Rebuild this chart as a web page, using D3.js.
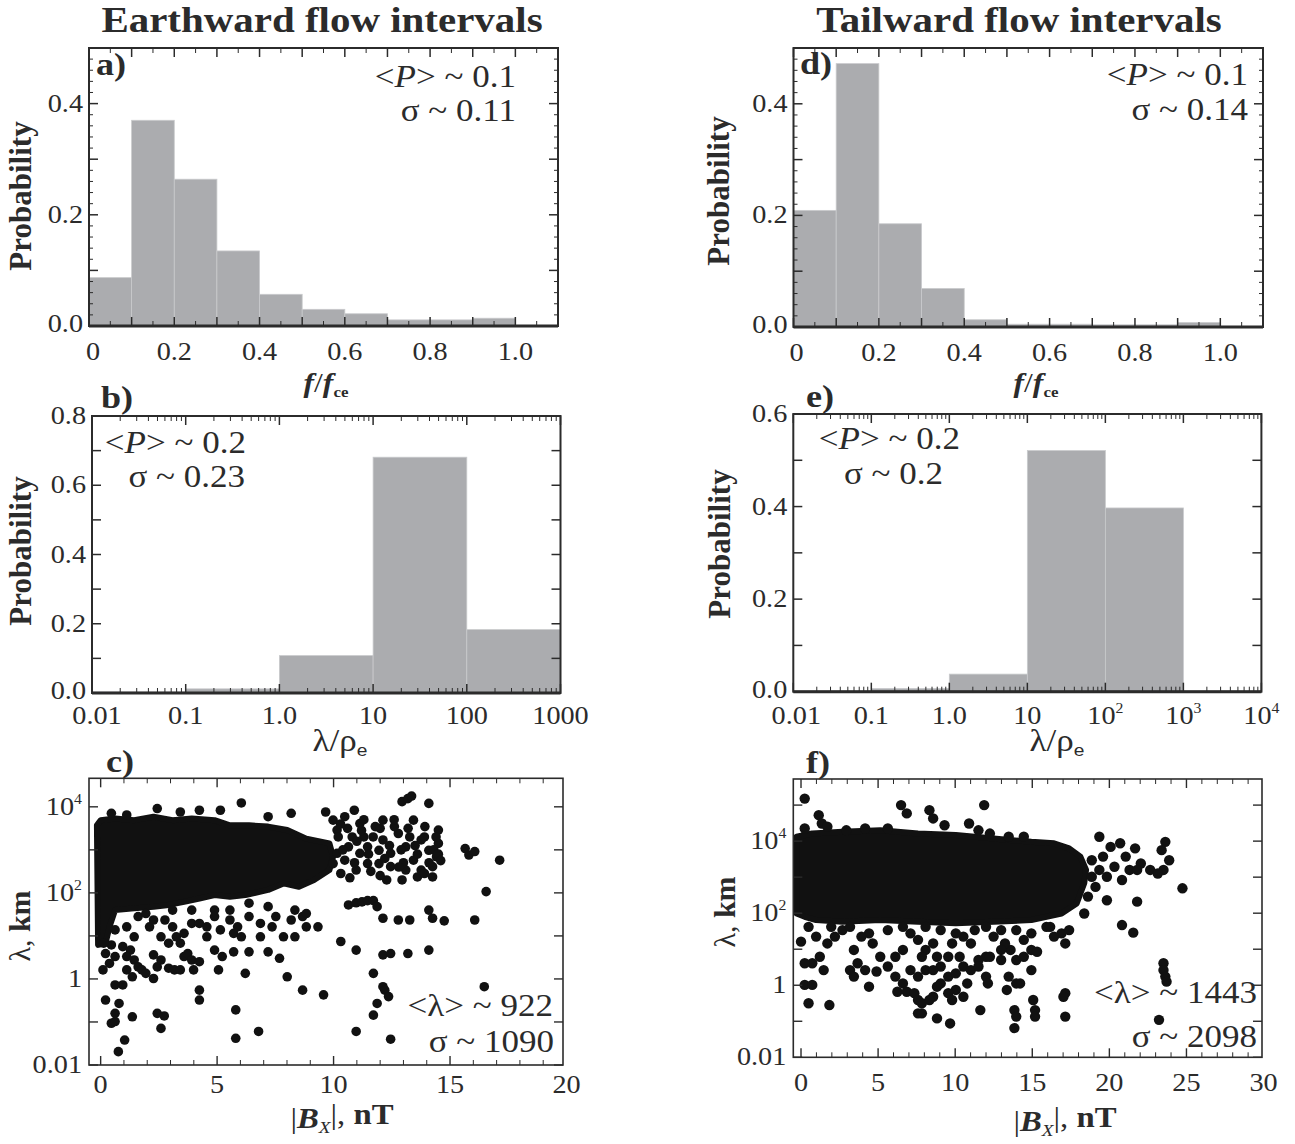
<!DOCTYPE html>
<html>
<head>
<meta charset="utf-8">
<title>Earthward and tailward flow intervals</title>
<script src="https://cdn.jsdelivr.net/npm/d3@7"></script>
<style>
  body { margin: 0; background: #fff; }
  svg { display: block; font-family: "Liberation Serif", "Times New Roman", serif; }
</style>
</head>
<body>
<svg id="fig" width="1295" height="1144"></svg>
<script>
// ---- histogram data (probability per bin) ----
var freqBins = [0, 0.1, 0.2, 0.3, 0.4, 0.5, 0.6, 0.7, 0.8, 0.9, 1.0];
var earthFreqProb = [0.087, 0.370, 0.264, 0.135, 0.057, 0.030, 0.022, 0.011, 0.011, 0.014];
var tailFreqProb  = [0.209, 0.472, 0.185, 0.069, 0.013, 0.005, 0.005, 0.004, 0.004, 0.008];

var lamRhoBins = [0.01, 0.1, 1, 10, 100, 1000];
var earthLamRhoProb = [0.003, 0.012, 0.108, 0.681, 0.183];
var tailLamRhoProb  = [0.000, 0.007, 0.038, 0.521, 0.397];

// ---- scatter data: [|Bx| nT, log10(lambda km)] ----
// outline of the saturated (overplotted) cloud
var earthCore = [[-0.16,3.57],[0,3.69],[0.62,3.73],[1.44,3.69],[2.27,3.77],[3.09,3.69],[3.91,3.73],
  [4.89,3.69],[5.55,3.57],[6.37,3.57],[7.19,3.54],[8.01,3.46],[8.83,3.26],[9.82,3.15],[9.98,2.84],
  [9.82,2.53],[9.16,2.30],[8.51,2.14],[7.85,2.22],[7.19,2.07],[6.21,1.95],[5.55,1.91],[4.89,1.95],
  [4.24,1.87],[3.58,1.79],[2.92,1.72],[2.27,1.68],[1.44,1.64],[0.62,1.60],[0.38,1.21],[0.21,0.83],[-0.11,0.79]];
var earthPoints = [
  [0.46,3.85],[1.12,3.81],[2.43,3.96],[3.42,3.88],[4.24,3.92],[5.14,3.92],[6.04,4.09],[7.19,3.77],
  [8.18,3.85],[9.66,3.88],[10.89,3.92],[12.94,4.12],[13.19,4.19],[13.35,4.25],[14.09,4.08],
  [9.98,3.69],[10.15,3.46],[10.48,3.77],[10.80,3.30],[11.13,3.61],[11.46,3.07],[11.79,3.54],[12.12,3.23],
  [12.45,2.92],[12.78,3.38],[13.10,3.07],[13.43,2.76],[13.76,3.23],[14.09,2.99],[14.42,2.84],[14.50,3.15],
  [14.25,2.61],[13.76,2.53],[13.10,2.53],[12.45,2.61],[11.95,2.68],[11.46,2.68],[10.97,2.53],[10.48,2.76],
  [10.15,2.92],[9.98,2.68],[13.43,3.69],[13.92,3.54],[12.12,3.69],[11.13,2.92],[12.94,2.30],[13.60,2.37],
  [14.25,2.37],[10.64,3.07],[11.30,3.30],[12.61,3.54],[14.50,3.46],[11.95,2.99],[13.27,3.30],[10.31,2.45],
  [12.28,2.30],
  [10.2,3.3],[10.4,3.0],[10.6,3.5],[10.9,2.7],[11.0,3.2],[11.3,3.7],[11.5,2.9],[11.7,3.3],[12.0,3.5],
  [12.2,2.8],[12.4,3.1],[12.6,3.7],[12.9,3.0],[13.0,2.7],[13.2,3.5],[13.5,3.1],[13.6,2.9],[13.9,3.3],
  [14.1,2.7],[14.3,3.0],[14.4,3.3],[14.5,2.9],[10.3,3.6],[11.6,2.5],[12.8,2.6],[13.9,2.45],[14.6,2.75],
  [10.7,2.35],[12.0,2.4],[11.2,3.45],
  [15.65,3.03],[15.81,2.88],[16.06,2.96],[17.13,2.76],[16.55,2.03],[16.06,1.37],[14.75,1.35],[16.47,-0.18],
  [10.64,1.72],[10.97,1.77],[11.22,1.79],[11.46,1.82],[11.71,1.82],[11.87,1.68],
  [12.12,1.41],[12.78,1.37],[13.27,1.37],[14.09,1.60],[14.25,1.41],
  [10.31,0.87],[10.97,0.67],[12.12,0.56],[12.45,0.59],[13.19,0.59],[14.09,0.67],
  [11.71,0.13],[12.12,-0.18],[12.20,-0.26],[12.36,-0.41],[11.87,-0.57],[11.71,-0.84],[12.45,-1.40],[10.97,-1.22],
  [8.67,-0.26],[9.57,-0.37],[8.01,0.05],[7.19,0.63],[7.68,0.48],[6.78,-1.22],[5.80,-1.38],[5.80,-0.72],
  [6.21,0.13],[5.71,0.63],[6.37,0.63],[5.71,1.06],[6.04,0.98],[5.06,0.21],[4.24,-0.26],[4.24,-0.49],[4.56,0.98],
  [5.14,1.14],[5.55,1.37],[6.37,1.45],[6.86,1.29],[7.36,1.21],[7.85,0.98],[8.34,0.98],[8.83,1.21],[8.67,1.45],
  [9.33,1.21],[8.34,1.60],[8.83,1.52],[4.89,1.60],[5.55,1.60],[6.37,1.76],[7.19,1.68],[7.52,1.45],[8.18,1.37],
  [6.86,0.98],[5.88,1.21],[4.89,1.45],[4.56,1.21],[3.91,1.60],[3.09,1.60],
  [0.21,0.59],[0.46,0.79],[0.62,0.52],[0.95,0.75],[1.28,0.67],[1.44,0.44],[1.61,0.28],[1.12,0.21],[1.36,0.05],
  [1.77,0.21],[1.94,0.13],[2.27,0.01],[2.43,0.28],[2.59,0.44],[2.27,0.56],[2.92,0.25],[3.17,0.21],[3.42,0.21],
  [3.58,0.52],[3.74,0.59],[3.91,0.44],[3.42,0.83],[2.92,0.83],[3.25,0.98],[3.58,1.06],[2.59,0.98],[2.10,1.21],
  [1.61,1.45],[1.94,1.52],[2.27,1.37],[2.76,1.37],[3.09,1.21],[3.91,1.29],[4.24,1.29],[1.12,1.21],[0.62,1.14],
  [1.44,0.98],[1.12,0.52],[4.24,0.40],[4.89,0.67],[5.22,0.52],[3.99,0.21],
  [0.21,-0.49],[0.46,-1.03],[0.62,-0.99],[0.79,-0.57],[0.62,-0.80],[1.03,-1.42],[0.76,-1.69],[0.95,-0.14],
  [0.62,-0.14],[1.36,-0.88],[2.43,-0.80],[2.73,-0.86],[2.59,-1.15],[0.13,0.83],[0.10,0.21],[0.38,0.36]
];

var tailCore = [[-0.29,4.12],[0.73,4.21],[2.69,4.26],[5.14,4.30],[7.59,4.21],[10.04,4.17],[12.49,4.07],
  [14.94,3.98],[16.41,3.94],[17.39,3.80],[18.12,3.57],[18.49,3.20],[18.37,2.83],[17.88,2.27],[16.90,1.99],
  [14.94,1.81],[12.49,1.76],[10.04,1.72],[7.59,1.76],[5.14,1.81],[2.69,1.76],[0.98,1.81],[0.24,1.90],[-0.29,1.99]];
var tailPoints = [
  [0.24,5.18],[1.15,4.72],[1.35,4.49],[1.71,4.40],[6.49,5.00],[6.86,4.77],[8.33,4.86],[8.57,4.63],[9.31,4.44],
  [11.88,5.00],[10.90,4.49],[11.51,4.30],[12.25,4.21],[5.63,4.35],[4.16,4.35],[2.94,4.30],[0.24,4.35],
  [13.47,4.12],[14.45,4.12],
  [19.35,4.12],[20.08,3.84],[20.70,3.94],[21.67,3.80],[23.63,3.98],[23.39,3.75],[23.88,3.47],[22.04,3.38],
  [22.65,3.20],[23.51,3.20],[23.14,3.10],[24.74,2.69],[21.80,2.32],[20.82,1.67],[21.55,1.46],[19.35,3.20],
  [18.86,3.01],[19.84,3.01],[20.33,3.29],[21.06,3.57],[21.31,3.20],[19.84,2.36],[19.10,2.73],[18.61,2.46],
  [18.37,1.99],[18.86,3.47],[19.59,3.57],[20.82,2.92],[21.80,3.20],
  [16.90,1.44],[17.14,1.16],[17.39,1.53],[16.41,1.35],[15.92,1.62],[14.94,1.44],[14.45,1.26],[13.96,1.53],
  [13.59,0.98],[14.94,0.98],[15.31,0.93],[13.23,1.16],[12.98,0.98],[12.49,1.35],[12.00,0.79],[11.51,0.70],
  [11.02,1.16],[10.53,1.35],[10.04,1.44],[9.80,1.16],[9.55,0.79],[9.06,0.52],[8.82,0.79],[8.57,1.16],
  [8.08,0.98],[7.59,1.26],[7.10,1.44],[6.61,0.98],[6.12,0.79],[5.63,0.52],[5.14,0.79],[4.65,1.16],[4.41,1.44],
  [3.92,1.35],[3.43,0.98],[3.67,0.61],[3.18,0.42],[4.16,0.42],[4.90,0.38],[6.12,0.24],[6.61,0.05],[7.10,0.42],
  [7.59,0.24],[7.84,0.79],[8.08,0.42],[8.57,0.42],[9.06,0.05],[9.55,0.24],[10.04,0.33],[10.29,0.79],[10.53,0.52],
  [11.02,0.42],[10.78,0.05],[10.04,-0.13],[9.55,-0.22],[10.53,-0.32],[9.80,-0.41],[11.51,0.52],[12.00,0.24],
  [12.25,0.79],[12.98,0.70],[13.47,0.24],[13.96,0.70],[14.21,0.05],[14.94,0.42],[14.45,0.79],[4.41,-0.04],
  [3.43,0.24],[2.20,1.35],[1.71,1.16],[1.22,0.79],[0.73,0.61],[0.24,0.61],[0.00,1.21],[0.98,1.35],[1.96,1.62],
  [2.69,1.53],[1.47,0.42],[0.24,0.01],[0.73,0.01],[0.49,-0.50],[1.84,-0.55],[6.25,-0.18],[6.86,-0.18],
  [7.35,-0.22],[7.59,-0.41],[7.84,-0.50],[8.82,-0.04],[8.57,-0.32],[8.33,-0.41],[7.59,-0.78],[7.84,-0.78],
  [8.82,-0.92],[9.67,-1.06],[11.63,-0.69],[12.12,0.05],[13.35,-0.13],[13.96,0.05],[13.84,-0.69],[13.96,-0.87],
  [15.06,-0.41],[15.18,-0.69],[15.18,-0.87],[13.84,-1.19],[17.14,-0.22],[17.02,-0.32],[17.14,-0.87],
  [23.51,0.61],[23.51,0.42],[23.63,0.24],[23.71,0.10],[23.22,-0.96],
  [0.49,1.62],[3.18,1.62],[5.63,1.53],[6.61,1.62],[8.08,1.62],[9.06,1.53],[11.27,1.53],[12.00,1.62],
  [12.98,1.53],[16.16,1.62]
];

var INK = "#2b2b2b";
var BAR = "#abacaf";
var svg = d3.select("#fig");
svg.append("rect").attr("width", 1295).attr("height", 1144).attr("fill", "#fff");

// text helper; parts are strings or {t, bold, italic, size, dy, family}
function addText(g, x, y, parts, o) {
  o = o || {};
  var tf = "translate(" + x + "," + y + ") scale(" + (o.sx || 1) + ",1)";
  if (o.rotate) tf += " rotate(" + o.rotate + ")";
  var t = g.append("text").attr("transform", tf)
    .attr("text-anchor", o.anchor || "start")
    .attr("font-size", o.size || 25)
    .attr("font-weight", o.bold ? "bold" : "normal")
    .attr("fill", INK);
  parts.forEach(function(p) {
    if (typeof p === "string") p = {t: p};
    var s = t.append("tspan").text(p.t);
    if (p.bold !== undefined) s.attr("font-weight", p.bold ? "bold" : "normal");
    if (p.italic) s.attr("font-style", "italic");
    if (p.size) s.attr("font-size", p.size);
    if (p.dy) s.attr("dy", p.dy);
    if (p.family) s.attr("font-family", p.family);
  });
  return t;
}

function tickLines(g, vals, pos, from, dir, len, vertical, w) {
  g.selectAll(null).data(vals).join("line")
    .attr("x1", function(d) { return vertical ? pos(d) : from; })
    .attr("x2", function(d) { return vertical ? pos(d) : from + dir * len; })
    .attr("y1", function(d) { return vertical ? from : pos(d); })
    .attr("y2", function(d) { return vertical ? from + dir * len : pos(d); })
    .attr("stroke", INK).attr("stroke-width", w || 1.3);
}

function logMinor(domain) {
  var out = [];
  for (var e = Math.floor(Math.log10(domain[0])); e < Math.ceil(Math.log10(domain[1])); e++) {
    for (var k = 2; k <= 9; k++) {
      var v = k * Math.pow(10, e);
      if (v > domain[0] && v < domain[1]) out.push(v);
    }
  }
  return out;
}

var SX = 1.13;  // the figure's lettering is slightly wide

// ---------- histogram panel ----------
function histPanel(c) {
  var g = svg.append("g");
  var x = (c.log ? d3.scaleLog() : d3.scaleLinear()).domain(c.xDomain).range([c.x0, c.x1]);
  var y = d3.scaleLinear().domain(c.yDomain).range([c.y1, c.y0]);

  g.selectAll("rect.bar").data(c.probs).join("rect").attr("class", "bar")
    .attr("x", function(d, i) { return x(c.bins[i]); })
    .attr("width", function(d, i) { return x(c.bins[i + 1]) - x(c.bins[i]); })
    .attr("y", function(d) { return y(d); })
    .attr("height", function(d) { return y(0) - y(d); })
    .attr("fill", BAR).attr("stroke", "#c9cacc").attr("stroke-width", 0.8);

  // y ticks (left + right, inward)
  tickLines(g, c.yMajor, y, c.x0, 1, 9, false, 1.5);
  tickLines(g, c.yMajor, y, c.x1, -1, 9, false, 1.5);
  if (c.yMinor) {
    tickLines(g, c.yMinor, y, c.x0, 1, 4, false, 1);
    tickLines(g, c.yMinor, y, c.x1, -1, 4, false, 1);
  }
  // x ticks (bottom + top, inward)
  tickLines(g, c.xMajor, x, c.y1, -1, 9, true, 1.5);
  tickLines(g, c.xMajor, x, c.y0, 1, 9, true, 1.5);
  tickLines(g, c.xMinor, x, c.y1, -1, 5, true, 1);
  tickLines(g, c.xMinor, x, c.y0, 1, 5, true, 1);

  g.append("rect").attr("x", c.x0).attr("y", c.y0)
    .attr("width", c.x1 - c.x0).attr("height", c.y1 - c.y0)
    .attr("fill", "none").attr("stroke", INK).attr("stroke-width", 2);
  g.append("line").attr("x1", c.x0).attr("x2", c.x1).attr("y1", c.y1).attr("y2", c.y1)
    .attr("stroke", INK).attr("stroke-width", 3);

  c.yLabels.forEach(function(v, i) {
    addText(g, c.x0 - 6, y(v) + (i === 0 ? 6 : 8), [c.yLabelText[i]], {anchor: "end", size: 25, sx: SX});
  });
  c.xLabels.forEach(function(v, i) {
    var lab = c.xLabelText[i];
    addText(g, x(v) + (i === 0 ? c.firstDx : 0), c.y1 + c.xLabDy, typeof lab === "string" ? [lab] : lab,
      {anchor: "middle", size: 25, sx: SX});
  });
  return {x: x, y: y, g: g};
}

// ---------- scatter panel ----------
function scatterPanel(c) {
  var g = svg.append("g");
  var x = d3.scaleLinear().domain(c.xDomain).range([c.x0, c.x1]);
  var y = d3.scaleLog().domain(c.yDomain).range([c.y1, c.y0]);
  var id = "clip" + c.name;
  svg.append("clipPath").attr("id", id).append("rect")
    .attr("x", c.x0).attr("y", c.y0).attr("width", c.x1 - c.x0).attr("height", c.y1 - c.y0);
  var pg = g.append("g").attr("clip-path", "url(#" + id + ")");
  var line = d3.line()
    .x(function(d) { return x(d[0]); })
    .y(function(d) { return y(Math.pow(10, d[1])); })
    .curve(d3.curveLinearClosed);
  pg.append("path").attr("d", line(c.core))
    .attr("fill", "#111").attr("stroke", "#111").attr("stroke-width", 6).attr("stroke-linejoin", "round");
  pg.selectAll("circle").data(c.points).join("circle")
    .attr("cx", function(d) { return x(d[0]); })
    .attr("cy", function(d) { return y(Math.pow(10, d[1])); })
    .attr("r", c.r).attr("fill", "#111");

  var decades = d3.range(-2, c.topDecade + 1).map(function(e) { return Math.pow(10, e); });
  tickLines(g, decades, y, c.x0, 1, 9, false, 1.4);
  tickLines(g, decades, y, c.x1, -1, 9, false, 1.4);
  tickLines(g, c.xMajor, x, c.y1, -1, 9, true, 1.4);
  tickLines(g, c.xMajor, x, c.y0, 1, 9, true, 1.4);
  tickLines(g, c.xMinor, x, c.y1, -1, 5, true, 1);
  tickLines(g, c.xMinor, x, c.y0, 1, 5, true, 1);
  g.append("rect").attr("x", c.x0).attr("y", c.y0)
    .attr("width", c.x1 - c.x0).attr("height", c.y1 - c.y0)
    .attr("fill", "none").attr("stroke", INK).attr("stroke-width", 1.6);

  var yl = [[1e4, [{t: "10"}, {t: "4", size: 14, dy: "-0.8em"}]], [1e2, [{t: "10"}, {t: "2", size: 14, dy: "-0.8em"}]],
            [1, ["1"]], [0.01, ["0.01"]]];
  yl.forEach(function(p) {
    addText(g, c.x0 - 7, y(p[0]) + 8, p[1], {anchor: "end", size: 25, sx: SX});
  });
  c.xLabels.forEach(function(v) {
    addText(g, x(v), c.y1 + c.xLabDy, [String(v)], {anchor: "middle", size: 25, sx: SX});
  });
  return {x: x, y: y, g: g};
}

var linMajorX = d3.range(0, 11).map(function(i) { return i / 10; });
var linMinorX = d3.range(0, 22).map(function(i) { return i * 0.05; }).filter(function(v, i) { return i % 2 === 1; });
var yMinor05 = d3.range(0, 26).map(function(i) { return i * 0.02; }).filter(function(v, i) { return i % 5 !== 0; });

// panel a
var pa = histPanel({x0: 89, x1: 558, y0: 48, y1: 326, xDomain: [0, 1.1], yDomain: [0, 0.5],
  bins: freqBins, probs: earthFreqProb,
  yMajor: [0.1, 0.2, 0.3, 0.4], yMinor: yMinor05, xMajor: linMajorX, xMinor: linMinorX,
  yLabels: [0, 0.2, 0.4], yLabelText: ["0.0", "0.2", "0.4"],
  xLabels: [0, 0.2, 0.4, 0.6, 0.8, 1.0], xLabelText: ["0", "0.2", "0.4", "0.6", "0.8", "1.0"], xLabDy: 34, firstDx: 4});
// panel d
var pd = histPanel({x0: 793.5, x1: 1263, y0: 48, y1: 327, xDomain: [0, 1.1], yDomain: [0, 0.5],
  bins: freqBins, probs: tailFreqProb,
  yMajor: [0.1, 0.2, 0.3, 0.4], yMinor: yMinor05, xMajor: linMajorX, xMinor: linMinorX,
  yLabels: [0, 0.2, 0.4], yLabelText: ["0.0", "0.2", "0.4"],
  xLabels: [0, 0.2, 0.4, 0.6, 0.8, 1.0], xLabelText: ["0", "0.2", "0.4", "0.6", "0.8", "1.0"], xLabDy: 34, firstDx: 3});
// panel b
var pb = histPanel({x0: 92, x1: 560.5, y0: 416, y1: 693, log: true, xDomain: [0.01, 1000], yDomain: [0, 0.8],
  bins: lamRhoBins, probs: earthLamRhoProb,
  yMajor: d3.range(1, 8).map(function(i) { return i / 10; }),
  xMajor: [0.01, 0.1, 1, 10, 100, 1000], xMinor: logMinor([0.01, 1000]),
  yLabels: [0, 0.2, 0.4, 0.6, 0.8], yLabelText: ["0.0", "0.2", "0.4", "0.6", "0.8"],
  xLabels: [0.01, 0.1, 1, 10, 100, 1000], xLabelText: ["0.01", "0.1", "1.0", "10", "100", "1000"], xLabDy: 31, firstDx: 5});
// panel e
var sup = function(b, e) { return [{t: b}, {t: e, size: 14, dy: "-0.8em"}]; };
var pe = histPanel({x0: 793.3, x1: 1261.4, y0: 414, y1: 691.7, log: true, xDomain: [0.01, 1e4], yDomain: [0, 0.6],
  bins: lamRhoBins, probs: tailLamRhoProb,
  yMajor: d3.range(1, 6).map(function(i) { return i / 10; }),
  xMajor: [0.01, 0.1, 1, 10, 100, 1000, 1e4], xMinor: logMinor([0.01, 1e4]),
  yLabels: [0, 0.2, 0.4, 0.6], yLabelText: ["0.0", "0.2", "0.4", "0.6"],
  xLabels: [0.01, 0.1, 1, 10, 100, 1000, 1e4],
  xLabelText: ["0.01", "0.1", "1.0", "10", sup("10", "2"), sup("10", "3"), sup("10", "4")], xLabDy: 32, firstDx: 3});
// panel c
var pc = scatterPanel({name: "c", x0: 89, x1: 563, y0: 778.3, y1: 1065, xDomain: [-0.5, 19.85], yDomain: [0.01, 4.6e4],
  topDecade: 4, core: earthCore, points: earthPoints, r: 4.8,
  xMajor: [0, 5, 10, 15], xMinor: d3.range(1, 20).filter(function(v) { return v % 5 !== 0; }),
  xLabels: [0, 5, 10, 15, 20], xLabDy: 28});
// panel f
var pf = scatterPanel({name: "f", x0: 793.3, x1: 1262, y0: 779, y1: 1057.3, xDomain: [-0.5, 29.9], yDomain: [0.01, 5.3e5],
  topDecade: 5, core: tailCore, points: tailPoints, r: 5.2,
  xMajor: [0, 5, 10, 15, 20, 25], xMinor: d3.range(1, 30).filter(function(v) { return v % 5 !== 0; }),
  xLabels: [0, 5, 10, 15, 20, 25, 30], xLabDy: 34});

// ---------- titles, panel letters, axis titles, annotations ----------
var t = svg.append("g");
addText(t, 322, 32, ["Earthward flow intervals"], {anchor: "middle", size: 35, bold: true, sx: 1.17});
addText(t, 1019, 32, ["Tailward flow intervals"], {anchor: "middle", size: 35, bold: true, sx: 1.17});

addText(t, 96, 75, ["a)"], {size: 32, bold: true, sx: SX});
addText(t, 101, 408, ["b)"], {size: 32, bold: true, sx: SX});
addText(t, 106, 772, ["c)"], {size: 32, bold: true, sx: SX});
addText(t, 800, 74, ["d)"], {size: 32, bold: true, sx: SX});
addText(t, 806, 407, ["e)"], {size: 32, bold: true, sx: SX});
addText(t, 806, 773, ["f)"], {size: 32, bold: true, sx: SX});

// y axis titles
addText(t, 31, 196, ["Probability"], {anchor: "middle", size: 31, bold: true, rotate: -90});
addText(t, 31, 551, ["Probability"], {anchor: "middle", size: 31, bold: true, rotate: -90});
addText(t, 729, 191, ["Probability"], {anchor: "middle", size: 31, bold: true, rotate: -90});
addText(t, 730, 544, ["Probability"], {anchor: "middle", size: 31, bold: true, rotate: -90});
var lamKm = [{t: "λ, "}, {t: "km", bold: true}];
addText(t, 30, 926, lamKm, {anchor: "middle", size: 30, rotate: -90});
addText(t, 735, 912, lamKm, {anchor: "middle", size: 30, rotate: -90});

// x axis titles
var ffce = [{t: "f", bold: true, italic: true}, {t: "/"}, {t: "f", bold: true, italic: true},
            {t: "ce", bold: true, size: 15, dy: "0.35em"}];
addText(t, 326, 392, ffce, {anchor: "middle", size: 28, sx: SX});
addText(t, 1036, 392, ffce, {anchor: "middle", size: 28, sx: SX});
var lamRho = [{t: "λ/ρ"}, {t: "e", size: 17, dy: "0.3em", family: "Liberation Sans, Arial, sans-serif"}];
addText(t, 340, 751, lamRho, {anchor: "middle", size: 31, sx: SX});
addText(t, 1057, 751, lamRho, {anchor: "middle", size: 31, sx: SX});
var bxLab = [{t: "|"}, {t: "B", bold: true, italic: true}, {t: "X", italic: true, size: 17, dy: "0.3em"},
             {t: "|, ", dy: "-0.3em"}, {t: "nT", bold: true}];
addText(t, 342, 1128, bxLab, {anchor: "middle", size: 29, sx: SX});
addText(t, 1065, 1131, bxLab, {anchor: "middle", size: 29, sx: SX});

// statistics annotations
function meanP(v) { return [{t: "<"}, {t: "P", italic: true}, {t: "> ~ " + v}]; }
addText(t, 516, 87, meanP("0.1"), {anchor: "end", size: 31, sx: SX});
addText(t, 516, 121, ["σ ~ 0.11"], {anchor: "end", size: 31, sx: SX});
addText(t, 1248, 85, meanP("0.1"), {anchor: "end", size: 31, sx: SX});
addText(t, 1248, 120, ["σ ~ 0.14"], {anchor: "end", size: 31, sx: SX});
addText(t, 246, 453, meanP("0.2"), {anchor: "end", size: 31, sx: SX});
addText(t, 245, 487, ["σ ~ 0.23"], {anchor: "end", size: 31, sx: SX});
addText(t, 960, 449, meanP("0.2"), {anchor: "end", size: 31, sx: SX});
addText(t, 943, 484, ["σ ~ 0.2"], {anchor: "end", size: 31, sx: SX});
addText(t, 553, 1016, ["<λ> ~ 922"], {anchor: "end", size: 31, sx: SX});
addText(t, 554, 1052, ["σ ~ 1090"], {anchor: "end", size: 31, sx: SX});
addText(t, 1257, 1003, ["<λ> ~ 1443"], {anchor: "end", size: 31, sx: SX});
addText(t, 1257, 1047, ["σ ~ 2098"], {anchor: "end", size: 31, sx: SX});
</script>
</body>
</html>
